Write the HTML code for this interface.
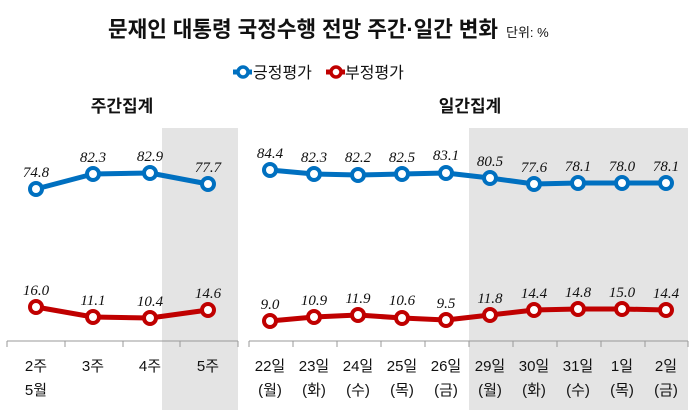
<!DOCTYPE html><html><head><meta charset="utf-8"><style>body{margin:0;background:#fff}svg{display:block}</style></head><body>
<svg width="700" height="410" xmlns="http://www.w3.org/2000/svg" font-family="'Liberation Sans','Noto Sans CJK KR',sans-serif">
<rect x="162" y="128" width="76" height="282" fill="#e4e4e4"/>
<rect x="469" y="128" width="219" height="282" fill="#e4e4e4"/>
<text x="108" y="37" font-size="22" font-weight="bold" fill="#111" textLength="390" lengthAdjust="spacingAndGlyphs">문재인 대통령 국정수행 전망 주간·일간 변화</text>
<text x="506" y="37" font-size="13" fill="#111">단위: %</text>
<g font-size="16" fill="#111">
<line x1="233" y1="72" x2="252" y2="72" stroke="#0070c0" stroke-width="5"/><circle cx="243" cy="72" r="5" fill="#fff" stroke="#0070c0" stroke-width="3.5"/>
<text x="253" y="78">긍정평가</text>
<line x1="326" y1="72" x2="345" y2="72" stroke="#c00000" stroke-width="5"/><circle cx="336" cy="72" r="5" fill="#fff" stroke="#c00000" stroke-width="3.5"/>
<text x="345" y="78">부정평가</text>
</g>
<g font-size="17" font-weight="bold" fill="#111" text-anchor="middle">
<text x="122" y="112">주간집계</text><text x="470" y="112">일간집계</text></g>
<g stroke="#999" stroke-width="1">
<line x1="7" y1="341" x2="238" y2="341"/><line x1="249" y1="341" x2="688" y2="341"/>
<path d="M7 341v6M65 341v6M123 341v6M180 341v6M238 341v6M249 341v6M293 341v6M337 341v6M381 341v6M425 341v6M469 341v6M513 341v6M557 341v6M601 341v6M645 341v6M688 341v6"/></g>
<g fill="none" stroke-width="5" stroke-linejoin="round">
<polyline stroke="#0070c0" points="36,189 93,174 150,173 208,184"/>
<polyline stroke="#c00000" points="36,307 93,317 150,318 208,310"/>
<polyline stroke="#0070c0" points="270,170 314,174 358,175 402,174 446,173 490,178 534,184 578,183 622,183 666,183"/>
<polyline stroke="#c00000" points="270,321 314,317 358,315 402,318 446,320 490,315 534,310 578,309 622,309 666,310"/>
</g>
<g fill="#fff" stroke-width="4">
<g stroke="#0070c0"><circle cx="36" cy="189" r="6"/><circle cx="93" cy="174" r="6"/><circle cx="150" cy="173" r="6"/><circle cx="208" cy="184" r="6"/>
<circle cx="270" cy="170" r="6"/><circle cx="314" cy="174" r="6"/><circle cx="358" cy="175" r="6"/><circle cx="402" cy="174" r="6"/><circle cx="446" cy="173" r="6"/><circle cx="490" cy="178" r="6"/><circle cx="534" cy="184" r="6"/><circle cx="578" cy="183" r="6"/><circle cx="622" cy="183" r="6"/><circle cx="666" cy="183" r="6"/></g>
<g stroke="#c00000"><circle cx="36" cy="307" r="6"/><circle cx="93" cy="317" r="6"/><circle cx="150" cy="318" r="6"/><circle cx="208" cy="310" r="6"/>
<circle cx="270" cy="321" r="6"/><circle cx="314" cy="317" r="6"/><circle cx="358" cy="315" r="6"/><circle cx="402" cy="318" r="6"/><circle cx="446" cy="320" r="6"/><circle cx="490" cy="315" r="6"/><circle cx="534" cy="310" r="6"/><circle cx="578" cy="309" r="6"/><circle cx="622" cy="309" r="6"/><circle cx="666" cy="310" r="6"/></g>
</g>
<g font-family="'Liberation Serif',serif" font-style="italic" font-size="15" fill="#111" text-anchor="middle">
<text x="36" y="177">74.8</text><text x="93" y="162">82.3</text><text x="150" y="161">82.9</text><text x="208" y="172">77.7</text>
<text x="36" y="295">16.0</text><text x="93" y="305">11.1</text><text x="150" y="306">10.4</text><text x="208" y="298">14.6</text>
<text x="270" y="158">84.4</text><text x="314" y="162">82.3</text><text x="358" y="162">82.2</text><text x="402" y="162">82.5</text><text x="446" y="160">83.1</text><text x="490" y="166">80.5</text><text x="534" y="172">77.6</text><text x="578" y="171">78.1</text><text x="622" y="171">78.0</text><text x="666" y="171">78.1</text>
<text x="270" y="309">9.0</text><text x="314" y="305">10.9</text><text x="358" y="303">11.9</text><text x="402" y="305">10.6</text><text x="446" y="308">9.5</text><text x="490" y="303">11.8</text><text x="534" y="298">14.4</text><text x="578" y="297">14.8</text><text x="622" y="297">15.0</text><text x="666" y="298">14.4</text>
</g>
<g font-size="15" fill="#111" text-anchor="middle">
<text x="36" y="371">2주</text><text x="93" y="371">3주</text><text x="150" y="371">4주</text><text x="208" y="371">5주</text>
<text x="36" y="395">5월</text>
<text x="270" y="371">22일</text><text x="314" y="371">23일</text><text x="358" y="371">24일</text><text x="402" y="371">25일</text><text x="446" y="371">26일</text><text x="490" y="371">29일</text><text x="534" y="371">30일</text><text x="578" y="371">31일</text><text x="622" y="371">1일</text><text x="666" y="371">2일</text>
<text x="270" y="395">(월)</text><text x="314" y="395">(화)</text><text x="358" y="395">(수)</text><text x="402" y="395">(목)</text><text x="446" y="395">(금)</text><text x="490" y="395">(월)</text><text x="534" y="395">(화)</text><text x="578" y="395">(수)</text><text x="622" y="395">(목)</text><text x="666" y="395">(금)</text>
</g>
</svg></body></html>
